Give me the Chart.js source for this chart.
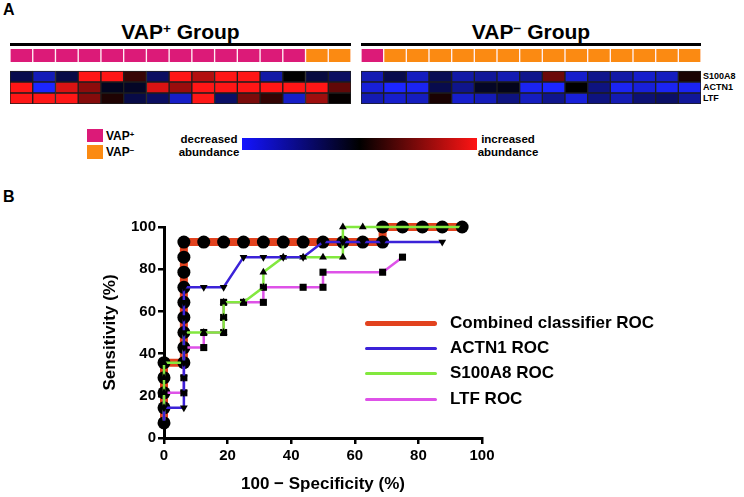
<!DOCTYPE html>
<html>
<head>
<meta charset="utf-8">
<script src="https://cdn.jsdelivr.net/npm/chart.js@4.4.1/dist/chart.umd.min.js"></script>
<style>
body { margin:0; width:744px; height:497px; position:relative; background:#fff; overflow:hidden;
       font-family:"Liberation Sans", Arial, sans-serif; font-weight:bold; color:#000; }
.abs { position:absolute; }
.grpTitle { font-size:21px; line-height:24px; text-align:center; white-space:nowrap; }
.sup { position:relative; top:-0.45em; font-size:0.65em; }
.rowLab { font-size:9px; line-height:11px; left:703px; }
.legA { font-size:12px; line-height:16px; left:106px; }
.scaleTxt { font-size:11.5px; line-height:13px; text-align:center; width:90px; }
.legB { left:365px; width:300px; height:20px; }
.legB span.ln { position:absolute; left:0; width:72px; border-radius:3px; }
.legB span.tx { position:absolute; left:85px; top:0; font-size:17px; line-height:20px; white-space:nowrap; }
</style>
</head>
<body>
<div class="abs" style="left:3px;top:1px;font-size:16px">A</div>
<div class="abs grpTitle" style="left:10px;width:341px;top:20px">VAP<span class="sup">+</span> Group</div>
<div class="abs grpTitle" style="left:361px;width:340px;top:20px">VAP<span class="sup">−</span> Group</div>
<div class="abs" style="left:10px;top:43px;width:341px;height:3px;background:#000"></div>
<div class="abs" style="left:361px;top:43px;width:340px;height:3px;background:#000"></div>
<canvas id="heatPos" class="abs" style="left:10px;top:49px" width="341" height="55"></canvas>
<canvas id="heatNeg" class="abs" style="left:361px;top:49px" width="340" height="55"></canvas>
<div class="abs rowLab" style="top:71px">S100A8</div>
<div class="abs rowLab" style="top:82px">ACTN1</div>
<div class="abs rowLab" style="top:93px">LTF</div>

<div class="abs" style="left:87px;top:129px;width:16px;height:13px;background:#dc1a78"></div>
<div class="abs" style="left:87px;top:145px;width:16px;height:14px;background:#fb8a12"></div>
<div class="abs legA" style="top:128px">VAP<span class="sup">+</span></div>
<div class="abs legA" style="top:144px">VAP<span class="sup">−</span></div>
<div class="abs scaleTxt" style="left:164px;top:133px">decreased<br>abundance</div>
<div class="abs" style="left:242px;top:138px;width:235px;height:12px;background:linear-gradient(to right,#1414ff,#000 50%,#ff1414)"></div>
<div class="abs scaleTxt" style="left:463px;top:133px">increased<br>abundance</div>

<div class="abs" style="left:3px;top:188px;font-size:16px">B</div>
<canvas id="roc" class="abs" style="left:0;top:180px" width="744" height="317"></canvas>
<div class="abs legB" style="top:313px"><span class="ln" style="top:8px;height:5px;background:#e2421e"></span><span class="tx">Combined classifier ROC</span></div>
<div class="abs legB" style="top:338px"><span class="ln" style="top:9px;height:3px;background:#3b22d8"></span><span class="tx">ACTN1 ROC</span></div>
<div class="abs legB" style="top:363px"><span class="ln" style="top:9px;height:3px;background:#82e83e"></span><span class="tx">S100A8 ROC</span></div>
<div class="abs legB" style="top:389px"><span class="ln" style="top:9px;height:3px;background:#de52e8"></span><span class="tx">LTF ROC</span></div>

<script>
// clinical diagnosis for each patient column (colour strip)
const posGroupDx = ['+','+','+','+','+','+','+','+','+','+','+','+','+','-','-'];
const negGroupDx = ['+','-','-','-','-','-','-','-','-','-','-','-','-','-','-'];

// relative abundance, -1 = decreased (blue), 0 = black, 1 = increased (red)
const posS100A8 = [-0.3, -0.72, -0.28, 1, 1, 0.22, -0.38, 1, 0.7, 1, 1, -0.65, 0, -0.25, -0.38];
const posACTN1  = [1, -1, 0.85, 0.55, -0.12, -0.15, 0.85, 0.6, 1, 1, 1, 1, 1, 1, 0.38];
const posLTF    = [1, 1, 1, 0.52, 0.12, -0.28, -0.38, -0.78, 1, -0.4, 0.48, 0.2, -0.78, 0.62, 0.02];
const negS100A8 = [-0.7, -0.3, -0.75, -0.33, -0.65, -0.6, -0.7, -0.55, 0.42, -0.8, -0.55, -0.65, -0.8, -0.75, 0.1];
const negACTN1  = [-0.85, -1, -0.95, -0.3, -0.55, -0.15, -0.1, -0.95, -1, 0, -0.5, -0.95, -0.85, -0.95, -0.95];
const negLTF    = [-0.7, -0.8, -0.75, 0.1, -0.8, -0.72, -0.5, -0.75, -0.55, -0.85, -0.5, -0.7, -0.45, -0.4, -0.6];

// ROC curves: 100 - specificity (%) and sensitivity (%)
const combinedFpr  = [0,0,0,0,0,6.25,6.25,6.25,6.25,6.25,6.25,6.25,6.25,6.25,12.5,18.75,25,31.25,37.5,43.75,50,56.25,62.5,68.75,68.75,75,81.25,87.5,93.75];
const combinedSens = [7.14,14.29,21.43,28.57,35.71,35.71,42.86,50,57.14,64.29,71.43,78.57,85.71,92.86,92.86,92.86,92.86,92.86,92.86,92.86,92.86,92.86,92.86,92.86,100,100,100,100,100];
const actn1Fpr  = [0,0,6.25,6.25,6.25,6.25,6.25,6.25,6.25,6.25,6.25,12.5,18.75,25,31.25,37.5,43.75,50,56.25,62.5,68.75,87.5];
const actn1Sens = [7.14,14.29,14.29,21.43,28.57,35.71,42.86,50,57.14,64.29,71.43,71.43,71.43,85.71,85.71,85.71,85.71,92.86,92.86,92.86,92.86,92.86];
const s100Fpr  = [0,0,0,0,0,6.25,6.25,6.25,12.5,18.75,18.75,18.75,25,31.25,31.25,37.5,43.75,50,56.25,56.25,56.25,62.5,93.75];
const s100Sens = [7.14,14.29,21.43,28.57,35.71,35.71,42.86,50,50,50,57.14,64.29,64.29,71.43,78.57,85.71,85.71,85.71,85.71,92.86,100,100,100];
const ltfFpr  = [0,0,0,6.25,6.25,6.25,6.25,12.5,12.5,18.75,18.75,18.75,25,31.25,31.25,43.75,50,50,68.75,75];
const ltfSens = [7.14,14.29,21.43,21.43,28.57,35.71,42.86,42.86,50,50,57.14,64.29,64.29,64.29,71.43,71.43,71.43,78.57,78.57,85.71];

const axisTicks = [0, 20, 40, 60, 80, 100];

const FONT = '"Liberation Sans", Arial, sans-serif';
const dxColor = {'+': '#dc1a78', '-': '#fb8a12'};

function heatColor(v) {
    if (v >= 0) return `rgb(${Math.round(255 * v)},${Math.round(22 * v)},${Math.round(22 * v)})`;
    const a = -v;
    return `rgb(${Math.round(28 * a)},${Math.round(38 * a)},${Math.round(255 * a)})`;
}

// row heights inside the heat strip, in px
const ROW_H = 11, GAP_H = 9, DX_H = 13;

function heatChart(id, dx, s100, actn1, ltf) {
    const labels = dx.map((d, i) => i + 1);
    const row = (vals) => ({
        data: vals.map(() => ROW_H),
        backgroundColor: vals.map(heatColor),
        borderColor: '#1e1e1e',
        borderWidth: 1,
        borderSkipped: false
    });
    new Chart(document.getElementById(id), {
        type: 'bar',
        data: {
            labels: labels,
            datasets: [
                row(ltf),
                row(actn1),
                row(s100),
                { data: dx.map(() => GAP_H), backgroundColor: 'rgba(0,0,0,0)', borderWidth: 0 },
                {
                    data: dx.map(() => DX_H),
                    backgroundColor: dx.map(d => dxColor[d]),
                    borderColor: 'rgba(255,235,240,0.75)',
                    borderWidth: {left: 1, right: 1, top: 0, bottom: 0},
                    borderSkipped: false
                }
            ]
        },
        options: {
            responsive: false,
            animation: false,
            barPercentage: 1,
            categoryPercentage: 1,
            layout: { padding: 0 },
            plugins: { legend: { display: false }, tooltip: { enabled: false } },
            scales: {
                x: { display: false, stacked: true },
                y: { display: false, stacked: true, min: 0, max: 3 * ROW_H + GAP_H + DX_H }
            }
        }
    });
}

heatChart('heatPos', posGroupDx, posS100A8, posACTN1, posLTF);
heatChart('heatNeg', negGroupDx, negS100A8, negACTN1, negLTF);

const pts = (xs, ys) => xs.map((x, i) => ({x: x, y: ys[i]}));

const rocChart = new Chart(document.getElementById('roc'), {
    type: 'scatter',
    data: {
        datasets: [
            {
                label: 'ACTN1 ROC', data: pts(actn1Fpr, actn1Sens), order: 0,
                showLine: true, borderColor: '#3b22d8', borderWidth: 2.5,
                pointStyle: 'triangle', rotation: 180, pointRadius: 4.5,
                pointBackgroundColor: '#000', pointBorderColor: '#000', pointBorderWidth: 0, clip: false
            },
            {
                label: 'S100A8 ROC', data: pts(s100Fpr, s100Sens), order: 1,
                showLine: true, borderColor: '#82e83e', borderWidth: 2.5,
                pointStyle: 'triangle', pointRadius: 4.5,
                pointBackgroundColor: '#000', pointBorderColor: '#000', pointBorderWidth: 0, clip: false
            },
            {
                label: 'LTF ROC', data: pts(ltfFpr, ltfSens), order: 2,
                showLine: true, borderColor: '#de52e8', borderWidth: 2.5,
                pointStyle: 'rect', pointRadius: 5,
                pointBackgroundColor: '#000', pointBorderColor: '#000', pointBorderWidth: 0, clip: false
            },
            {
                label: 'Combined classifier ROC', data: pts(combinedFpr, combinedSens), order: 3,
                showLine: true, borderColor: '#e2421e', borderWidth: 8,
                pointStyle: 'circle', pointRadius: 6.5,
                pointBackgroundColor: '#000', pointBorderColor: '#000', pointBorderWidth: 0, clip: false
            }
        ]
    },
    options: {
        responsive: false,
        animation: false,
        layout: { padding: { left: 96, top: 47, right: 262, bottom: 0 } },
        plugins: { legend: { display: false }, tooltip: { enabled: false } },
        scales: {
            x: {
                type: 'linear', min: 0, max: 100,
                afterBuildTicks: s => { s.ticks = axisTicks.map(v => ({value: v})); },
                afterFit: s => { s.height = 59; },
                border: { color: '#000', width: 3 },
                grid: { drawOnChartArea: false, color: '#000', lineWidth: 2.5, tickLength: 6 },
                ticks: { color: '#000', padding: 3, font: { family: FONT, size: 15, weight: 'bold' } },
                title: { display: true, text: '100 − Specificity (%)', color: '#000',
                         padding: { top: 0, bottom: 2 }, font: { family: FONT, size: 17, weight: 'bold' } }
            },
            y: {
                type: 'linear', min: 0, max: 100,
                afterBuildTicks: s => { s.ticks = axisTicks.map(v => ({value: v})); },
                afterFit: s => { s.width = 68; },
                border: { color: '#000', width: 3 },
                grid: { drawOnChartArea: false, color: '#000', lineWidth: 2.5, tickLength: 6 },
                ticks: { color: '#000', padding: 2, font: { family: FONT, size: 15, weight: 'bold' } },
                title: { display: true, text: 'Sensitivity (%)', color: '#000',
                         padding: { top: 4, bottom: 0 }, font: { family: FONT, size: 17, weight: 'bold' } }
            }
        }
    }
});
</script>
</body>
</html>
